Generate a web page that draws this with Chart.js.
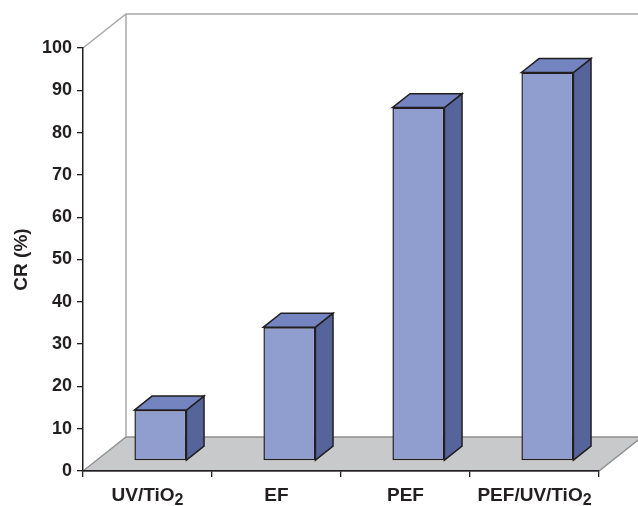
<!DOCTYPE html>
<html>
<head>
<meta charset="utf-8">
<script src="https://cdn.jsdelivr.net/npm/chart.js@4.4.1/dist/chart.umd.min.js"></script>
<style>
  html, body { margin: 0; padding: 0; background: #ffffff; }
  canvas { display: block; }
</style>
</head>
<body>
<canvas id="chart" width="638" height="506"></canvas>
<script>
// Treatment processes and their colour removal (CR, %)
const categories = ['UV/TiO₂', 'EF', 'PEF', 'PEF/UV/TiO₂'];
const crValues = [12, 31.6, 83.5, 91.8];
const yTickLabels = ['0', '10', '20', '30', '40', '50', '60', '70', '80', '90', '100'];
const yAxisTitle = 'CR (%)';

// Look of the pseudo-3D box
const FONT = "'Liberation Sans', Arial, Helvetica, sans-serif";
const INK = '#231f20';
const DX = 43, DY = 34;          // depth of floor / wall
const FRONT = 0.3, BAR_D = 0.41; // bar position and thickness in depth
const FACE = '#8f9ecf', TOP = '#7384c1', SIDE = '#55649a';
const SUBS = '₀₁₂₃₄₅₆₇₈₉';

function drawLabel(ctx, text, cx, baseline) {
  // split into normal and subscript runs
  const runs = [];
  for (const ch of text) {
    const sub = SUBS.indexOf(ch);
    const c = sub >= 0 ? String(sub) : ch;
    const isSub = sub >= 0;
    if (runs.length && runs[runs.length - 1].sub === isSub) runs[runs.length - 1].t += c;
    else runs.push({ t: c, sub: isSub });
  }
  const mainFont = 'bold 19px ' + FONT, subFont = 'bold 16px ' + FONT;
  let total = 0;
  runs.forEach(r => { ctx.font = r.sub ? subFont : mainFont; r.w = ctx.measureText(r.t).width; total += r.w; });
  let x = cx - total / 2;
  ctx.textAlign = 'left';
  ctx.textBaseline = 'alphabetic';
  ctx.fillStyle = INK;
  runs.forEach(r => {
    ctx.font = r.sub ? subFont : mainFont;
    ctx.fillText(r.t, x, baseline + (r.sub ? 4.5 : 0));
    x += r.w;
  });
}

const box3d = {
  id: 'box3d',
  beforeDraw(chart) {
    const { ctx, scales: { x, y } } = chart;
    const y0 = y.getPixelForValue(0), yMax = y.getPixelForValue(100);
    const L = x.left, R = x.right;
    ctx.save();
    // floor
    ctx.beginPath();
    ctx.moveTo(L, y0);
    ctx.lineTo(R, y0);
    ctx.lineTo(R + DX, y0 - DY);
    ctx.lineTo(L + DX, y0 - DY);
    ctx.closePath();
    ctx.fillStyle = '#c8c9cb';
    ctx.fill();
    ctx.strokeStyle = '#8e8e8e';
    ctx.lineWidth = 1.3;
    ctx.stroke();
    // back wall outline
    ctx.beginPath();
    ctx.moveTo(L, yMax);
    ctx.lineTo(L + DX, yMax - DY);
    ctx.lineTo(chart.width + 5, yMax - DY);
    ctx.moveTo(L + DX, yMax - DY);
    ctx.lineTo(L + DX, y0 - DY);
    ctx.strokeStyle = '#a8a8a8';
    ctx.lineWidth = 1.5;
    ctx.stroke();
    ctx.restore();
  },
  beforeDatasetsDraw(chart) {
    chart.ctx.save();
    chart.ctx.translate(FRONT * DX, -FRONT * DY);
  },
  afterDatasetsDraw(chart) {
    const ctx = chart.ctx;
    const dx = BAR_D * DX, dy = BAR_D * DY;
    ctx.lineWidth = 1.5;
    ctx.strokeStyle = INK;
    ctx.lineJoin = 'miter';
    chart.getDatasetMeta(0).data.forEach(bar => {
      const { x: cx, y: top, base, width } = bar.getProps(['x', 'y', 'base', 'width'], true);
      const l = cx - width / 2, r = cx + width / 2;
      // side face
      ctx.beginPath();
      ctx.moveTo(r, top);
      ctx.lineTo(r + dx, top - dy);
      ctx.lineTo(r + dx, base - dy);
      ctx.lineTo(r, base);
      ctx.closePath();
      ctx.fillStyle = SIDE;
      ctx.fill();
      ctx.stroke();
      // top face
      ctx.beginPath();
      ctx.moveTo(l, top);
      ctx.lineTo(l + dx, top - dy);
      ctx.lineTo(r + dx, top - dy);
      ctx.lineTo(r, top);
      ctx.closePath();
      ctx.fillStyle = TOP;
      ctx.fill();
      ctx.stroke();
    });
    ctx.restore();
  },
  afterDraw(chart) {
    const { ctx, scales: { x } } = chart;
    ctx.save();
    categories.forEach((c, i) => drawLabel(ctx, c, x.getPixelForTick(i), 500.5));
    ctx.restore();
  }
};

new Chart(document.getElementById('chart'), {
  type: 'bar',
  data: {
    labels: categories,
    datasets: [{
      data: crValues,
      backgroundColor: FACE,
      borderColor: INK,
      borderWidth: 1.5,
      borderSkipped: false,
      categoryPercentage: 1,
      barPercentage: 0.403
    }]
  },
  options: {
    responsive: false,
    animation: false,
    events: [],
    layout: { padding: { left: 0, top: 48, right: 39, bottom: 0 } },
    plugins: { legend: { display: false }, tooltip: { enabled: false } },
    scales: {
      x: {
        offset: true,
        grid: { display: true, offset: true, drawOnChartArea: false, drawTicks: true, tickLength: 6, color: INK, lineWidth: 1.3 },
        border: { display: true, color: INK, width: 1.5 },
        ticks: { display: false },
        afterFit(scale) { scale.height = 35; }
      },
      y: {
        min: 0,
        max: 100,
        ticks: {
          stepSize: 10,
          padding: 5,
          color: INK,
          font: { family: FONT, size: 18, weight: 'bold' },
          callback: (v, i) => yTickLabels[i]
        },
        grid: { display: true, drawOnChartArea: false, drawTicks: true, tickLength: 6, color: INK, lineWidth: 1.3 },
        border: { display: true, color: INK, width: 1.5 },
        title: {
          display: true,
          text: yAxisTitle,
          color: INK,
          font: { family: FONT, size: 19, weight: 'bold', lineHeight: 1.2 },
          padding: { top: 10, bottom: 0 }
        },
        afterFit(scale) { scale.width = 83; }
      }
    }
  },
  plugins: [box3d]
});
</script>
</body>
</html>
